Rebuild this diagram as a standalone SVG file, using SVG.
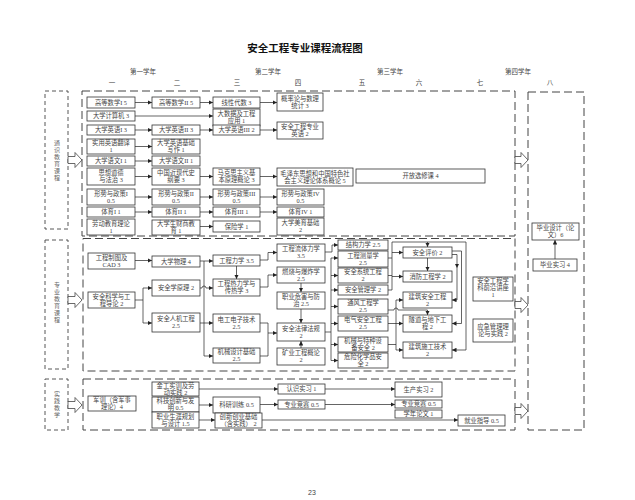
<svg xmlns="http://www.w3.org/2000/svg" width="635" height="500" viewBox="0 0 635 500">
<defs>
<marker id="ah" viewBox="0 0 6 6" refX="6" refY="3" markerWidth="4.5" markerHeight="4.5" orient="auto" markerUnits="userSpaceOnUse"><path d="M0,0 L6,3 L0,6 Z" fill="#222"/></marker>
<style>
text{font-family:"Liberation Serif","Noto Sans CJK SC",serif;fill:#444}
.nd rect{fill:#fff;stroke:#333;stroke-width:0.8}
.nd text{font-size:6.3px;text-anchor:middle}
.c path{fill:none;stroke:#222;stroke-width:0.7}
.c .a{marker-end:url(#ah)}
.ds{fill:none;stroke:#444;stroke-width:1;stroke-dasharray:8 4}
.ds2{fill:none;stroke:#444;stroke-width:0.9;stroke-dasharray:4 3}
.ho{fill:#fff;stroke:#444;stroke-width:0.8}
.hd{font-size:6.5px;text-anchor:middle}
.vt{font-size:6px;text-anchor:middle;fill:#666}
</style>
</defs>
<rect width="635" height="500" fill="#fff"/>
<text x="305" y="52" style="font-family:'Noto Sans CJK SC',sans-serif;font-size:10.5px;font-weight:bold;text-anchor:middle;fill:#111">安全工程专业课程流程图</text>
<g id="headers">
<text class="hd" x="143" y="74">第一学年</text>
<text class="hd" x="268" y="74">第二学年</text>
<text class="hd" x="390" y="74">第三学年</text>
<text class="hd" x="518" y="74">第四学年</text>
<text class="hd" x="112" y="85">一</text>
<text class="hd" x="177" y="85">二</text>
<text class="hd" x="237" y="85">三</text>
<text class="hd" x="298" y="85">四</text>
<text class="hd" x="362" y="85">五</text>
<text class="hd" x="419" y="85">六</text>
<text class="hd" x="480" y="85">七</text>
<text class="hd" x="550" y="85">八</text>
</g>
<g id="frames">
<rect class="ds2" x="45" y="91" width="23" height="138"/>
<rect class="ds2" x="45" y="240" width="23" height="129"/>
<rect class="ds2" x="45" y="379" width="23" height="51"/>
<rect class="ds" x="82" y="91" width="433" height="145"/>
<rect class="ds" x="83" y="238.5" width="432" height="132.5"/>
<rect class="ds" x="83" y="379" width="432" height="51"/>
<rect class="ds" x="528" y="92" width="56" height="338"/>
<text class="vt"><tspan x="57" y="144.8">通</tspan><tspan x="57" y="151.8">识</tspan><tspan x="57" y="158.8">教</tspan><tspan x="57" y="165.8">育</tspan><tspan x="57" y="172.8">课</tspan><tspan x="57" y="179.8">程</tspan></text>
<text class="vt"><tspan x="57" y="286.8">专</tspan><tspan x="57" y="293.8">业</tspan><tspan x="57" y="300.8">教</tspan><tspan x="57" y="307.8">育</tspan><tspan x="57" y="314.8">课</tspan><tspan x="57" y="321.8">程</tspan></text>
<text class="vt"><tspan x="57" y="395.8">实</tspan><tspan x="57" y="402.8">践</tspan><tspan x="57" y="409.8">教</tspan><tspan x="57" y="416.8">学</tspan></text>
<polygon class="ho" points="68,156.5 75,156.5 75,152.5 82,160 75,167.5 75,163.5 68,163.5"/>
<polygon class="ho" points="68,296.5 75,296.5 75,292.5 82,300 75,307.5 75,303.5 68,303.5"/>
<polygon class="ho" points="68,401.5 75,401.5 75,397.5 82,405 75,412.5 75,408.5 68,408.5"/>
<polygon class="ho" points="515,156.5 521,156.5 521,152.5 528,160 521,167.5 521,163.5 515,163.5"/>
<polygon class="ho" points="515,301.5 521,301.5 521,297.5 528,305 521,312.5 521,308.5 515,308.5"/>
<polygon class="ho" points="515,407.5 521,407.5 521,403.5 528,411 521,418.5 521,414.5 515,414.5"/>
</g>
<g id="connectors" class="c">
<path class="a" d="M135,102.5 H152"/>
<path class="a" d="M200,102.5 H213"/>
<path class="a" d="M260,102.5 H277"/>
<path class="a" d="M135,116 H213"/>
<path class="a" d="M135,130 H152"/>
<path class="a" d="M200,130 H213"/>
<path class="a" d="M260,130 H277"/>
<path class="a" d="M135,146.5 H152"/>
<path class="a" d="M135,161 H152"/>
<path class="a" d="M135,176.5 H152"/>
<path class="a" d="M200,176.5 H213"/>
<path class="a" d="M260,176.5 H277"/>
<path class="a" d="M135,197 H152"/>
<path class="a" d="M200,197 H213"/>
<path class="a" d="M260,197 H277"/>
<path class="a" d="M135,212 H152"/>
<path class="a" d="M200,212 H213"/>
<path class="a" d="M260,212 H277"/>
<path class="a" d="M200,226.5 H213"/>
<path class="a" d="M135,260.5 H152"/>
<path class="a" d="M135,300 H143 V288 H152"/>
<path class="a" d="M143,300 V323 H152"/>
<path class="a" d="M200,261 H213"/>
<path class="a" d="M204,261 V356 H213"/>
<path class="a" d="M200,288 H202 A2,2 0 0 1 206,288 H213"/>
<path class="a" d="M200,323 H213"/>
<path class="a" d="M236.5,266 V279"/>
<path class="a" d="M260,260 H268 V252.5 H277"/>
<path class="a" d="M260,287 H268 V275 H277"/>
<path class="a" d="M260,323 H268 V333 H277"/>
<path d="M260,356 H268 V333"/>
<path class="a" d="M301,283 V292"/>
<path class="a" d="M301,309 V323"/>
<path class="a" d="M301,365 V341"/>
<path class="a" d="M325,252 H332 V245 H338"/>
<path d="M325,332 H331 M331,258 V360.5"/>
<path class="a" d="M331,258 H338"/>
<path class="a" d="M331,275.5 H338"/>
<path class="a" d="M331,290 H338"/>
<path class="a" d="M331,306.5 H338"/>
<path class="a" d="M331,323.5 H338"/>
<path class="a" d="M331,344.5 H338"/>
<path class="a" d="M331,360.5 H338"/>
<path d="M388,258 H392 M388,275.5 H392 M388,290 H392 M392,242 V290"/>
<path class="a" d="M392,252.5 H403"/>
<path class="a" d="M392,276.5 H403"/>
<path class="a" d="M392,242 H466 V350 H452"/>
<path class="a" d="M427.5,242 V247"/>
<path class="a" d="M427.5,258 V271"/>
<path class="a" d="M452,251 H461.5 V323.5 H452"/>
<path class="a" d="M452,254.5 H457 V268"/>
<path class="a" d="M457,268 V300 H452"/>
<path d="M388,323.5 H396 M388,344.5 H396 M396,300 V350"/>
<path class="a" d="M396,300 H403"/>
<path class="a" d="M396,323.5 H403"/>
<path class="a" d="M396,350 H403"/>
<path class="a" d="M388,310 H394 A2,2 0 0 1 398,310 H427.5 V315"/>
<path class="a" d="M555,259 V240"/>
<path class="a" d="M199,389 H278"/>
<path class="a" d="M199,405 H213"/>
<path class="a" d="M260,404.5 H278"/>
<path class="a" d="M199,420 H215"/>
<path class="a" d="M325,389 H395"/>
<path class="a" d="M325,404.5 H395"/>
<path class="a" d="M262,420 H458"/>
</g>
<g id="n1" class="nd"><rect x="87" y="97" width="48" height="11"/><text x="111" y="104.8">高等数学I 5</text></g>
<g id="n2" class="nd"><rect x="152" y="97" width="48" height="11"/><text x="176" y="104.8">高等数学II 5</text></g>
<g id="n3" class="nd"><rect x="213" y="97" width="47" height="11"/><text x="236.5" y="104.8">线性代数 3</text></g>
<g id="n4" class="nd"><rect x="277" y="93" width="46" height="18"/><text x="300" y="100.8">概率论与数理</text><text x="300" y="107.8">统计 3</text></g>
<g id="n5" class="nd"><rect x="87" y="111" width="48" height="10"/><text x="111" y="118.3">大学计算机 3</text></g>
<g id="n6" class="nd"><rect x="213" y="109" width="47" height="17"/><text x="236.5" y="116.3">大数据及工程</text><text x="236.5" y="123.3">应用 1</text></g>
<g id="n7" class="nd"><rect x="87" y="125" width="48" height="10"/><text x="111" y="132.3">大学英语I 3</text></g>
<g id="n8" class="nd"><rect x="152" y="125" width="48" height="10"/><text x="176" y="132.3">大学英语II 3</text></g>
<g id="n9" class="nd"><rect x="213" y="125" width="47" height="10"/><text x="236.5" y="132.3">大学英语III 2</text></g>
<g id="n10" class="nd"><rect x="277" y="122" width="46" height="17"/><text x="300" y="129.3">安全工程专业</text><text x="300" y="136.3">英语 2</text></g>
<g id="n11" class="nd"><rect x="87" y="139" width="48" height="15"/><text x="111" y="145.3">实用英语翻译</text><text x="111" y="152.3">1</text></g>
<g id="n12" class="nd"><rect x="152" y="139" width="48" height="15"/><text x="176" y="145.3">大学英语基础</text><text x="176" y="152.3">写作 1</text></g>
<g id="n13" class="nd"><rect x="87" y="156" width="48" height="10"/><text x="111" y="163.3">大学语文I 1</text></g>
<g id="n14" class="nd"><rect x="152" y="156" width="48" height="10"/><text x="176" y="163.3">大学语文II 1</text></g>
<g id="n15" class="nd"><rect x="87" y="168" width="48" height="17"/><text x="111" y="175.3">思想道德</text><text x="111" y="182.3">与法治 3</text></g>
<g id="n16" class="nd"><rect x="152" y="168" width="48" height="17"/><text x="176" y="175.3">中国近现代史</text><text x="176" y="182.3">纲要 3</text></g>
<g id="n17" class="nd"><rect x="213" y="168" width="47" height="17"/><text x="236.5" y="175.3">马克思主义基</text><text x="236.5" y="182.3">本原理概论 3</text></g>
<g id="n18" class="nd"><rect x="277" y="168" width="76" height="18"/><text x="315" y="175.8">毛泽东思想和中国特色社</text><text x="315" y="182.8">会主义理论体系概论 5</text></g>
<g id="n19" class="nd"><rect x="356" y="169" width="129" height="14"/><text x="420.5" y="178.3">开放选修课 4</text></g>
<g id="n20" class="nd"><rect x="87" y="189" width="48" height="16"/><text x="111" y="195.8">形势与政策I</text><text x="111" y="202.8">0.5</text></g>
<g id="n21" class="nd"><rect x="152" y="189" width="48" height="16"/><text x="176" y="195.8">形势与政策II</text><text x="176" y="202.8">0.5</text></g>
<g id="n22" class="nd"><rect x="213" y="189" width="47" height="16"/><text x="236.5" y="195.8">形势与政策III</text><text x="236.5" y="202.8">0.5</text></g>
<g id="n23" class="nd"><rect x="277" y="189" width="47" height="16"/><text x="300.5" y="195.8">形势与政策IV</text><text x="300.5" y="202.8">0.5</text></g>
<g id="n24" class="nd"><rect x="87" y="207" width="48" height="10"/><text x="111" y="214.3">体育I 1</text></g>
<g id="n25" class="nd"><rect x="152" y="207" width="48" height="10"/><text x="176" y="214.3">体育II 1</text></g>
<g id="n26" class="nd"><rect x="213" y="207" width="47" height="10"/><text x="236.5" y="214.3">体育III 1</text></g>
<g id="n27" class="nd"><rect x="277" y="207" width="47" height="10"/><text x="300.5" y="214.3">体育IV 1</text></g>
<g id="n28" class="nd"><rect x="87" y="219" width="48" height="16"/><text x="111" y="225.8">劳动教育理论</text><text x="111" y="232.8">1</text></g>
<g id="n29" class="nd"><rect x="152" y="220" width="48" height="15"/><text x="176" y="226.3">大学生财商教</text><text x="176" y="233.3">育 1</text></g>
<g id="n30" class="nd"><rect x="213" y="221" width="47" height="11"/><text x="236.5" y="228.8">保险学 1</text></g>
<g id="n31" class="nd"><rect x="277" y="218" width="47" height="17"/><text x="300.5" y="225.3">大学美育基础</text><text x="300.5" y="232.3">2</text></g>
<g id="s1" class="nd"><rect x="88" y="253" width="47" height="16"/><text x="111.5" y="259.8">工程制图及</text><text x="111.5" y="266.8">CAD 3</text></g>
<g id="s2" class="nd"><rect x="88" y="292" width="47" height="16"/><text x="111.5" y="298.8">安全科学与工</text><text x="111.5" y="305.8">程导论 2</text></g>
<g id="s3" class="nd"><rect x="152" y="256" width="48" height="11"/><text x="176" y="263.8">大学物理 4</text></g>
<g id="s4" class="nd"><rect x="152" y="280" width="48" height="16"/><text x="176" y="290.3">安全学原理 2</text></g>
<g id="s5" class="nd"><rect x="152" y="313" width="48" height="19"/><text x="176" y="321.3">安全人机工程</text><text x="176" y="328.3">2.5</text></g>
<g id="s6" class="nd"><rect x="213" y="255" width="47" height="11"/><text x="236.5" y="262.8">工程力学 3.5</text></g>
<g id="s7" class="nd"><rect x="213" y="279" width="47" height="17"/><text x="236.5" y="286.3">工程热力学与</text><text x="236.5" y="293.3">传热学 3</text></g>
<g id="s8" class="nd"><rect x="213" y="314" width="47" height="18"/><text x="236.5" y="321.8">电工电子技术</text><text x="236.5" y="328.8">2.5</text></g>
<g id="s9" class="nd"><rect x="213" y="348" width="47" height="15"/><text x="236.5" y="354.3">机械设计基础</text><text x="236.5" y="361.3">2.5</text></g>
<g id="s10" class="nd"><rect x="277" y="244" width="48" height="17"/><text x="301" y="251.3">工程流体力学</text><text x="301" y="258.3">3.5</text></g>
<g id="s11" class="nd"><rect x="277" y="267" width="48" height="16"/><text x="301" y="273.8">燃烧与爆炸学</text><text x="301" y="280.8">2.5</text></g>
<g id="s12" class="nd"><rect x="277" y="292" width="48" height="17"/><text x="301" y="299.3">职业危害与防</text><text x="301" y="306.3">治 2.5</text></g>
<g id="s13" class="nd"><rect x="277" y="323" width="48" height="18"/><text x="301" y="330.8">安全法律法规</text><text x="301" y="337.8">2</text></g>
<g id="s14" class="nd"><rect x="277" y="348" width="48" height="17"/><text x="301" y="355.3">矿业工程概论</text><text x="301" y="362.3">2</text></g>
<g id="s15" class="nd"><rect x="338" y="240" width="50" height="10"/><text x="363" y="247.3">结构力学 2.5</text></g>
<g id="s16" class="nd"><rect x="338" y="251" width="50" height="16"/><text x="363" y="257.8">工程测量学</text><text x="363" y="264.8">2.5</text></g>
<g id="s17" class="nd"><rect x="338" y="268" width="50" height="15"/><text x="363" y="274.3">安全系统工程</text><text x="363" y="281.3">2</text></g>
<g id="s18" class="nd"><rect x="338" y="285" width="50" height="10"/><text x="363" y="292.3">安全管理学 2</text></g>
<g id="s19" class="nd"><rect x="338" y="299" width="50" height="15"/><text x="363" y="305.3">通风工程学</text><text x="363" y="312.3">2.5</text></g>
<g id="s20" class="nd"><rect x="338" y="316" width="50" height="15"/><text x="363" y="322.3">电气安全工程</text><text x="363" y="329.3">2.5</text></g>
<g id="s21" class="nd"><rect x="338" y="337" width="50" height="15"/><text x="363" y="343.3">机械与特种设</text><text x="363" y="350.3">备安全 2</text></g>
<g id="s22" class="nd"><rect x="338" y="353" width="50" height="15"/><text x="363" y="359.3">危险化学品安</text><text x="363" y="366.3">全 2</text></g>
<g id="s23" class="nd"><rect x="403" y="247" width="49" height="11"/><text x="427.5" y="254.8">安全评价 2</text></g>
<g id="s24" class="nd"><rect x="403" y="271" width="49" height="11"/><text x="427.5" y="278.8">消防工程学 2</text></g>
<g id="s25" class="nd"><rect x="403" y="292" width="49" height="16"/><text x="427.5" y="298.8">建筑安全工程</text><text x="427.5" y="305.8">2</text></g>
<g id="s26" class="nd"><rect x="403" y="315" width="49" height="17"/><text x="427.5" y="322.3">隧道与地下工</text><text x="427.5" y="329.3">程 2</text></g>
<g id="s27" class="nd"><rect x="403" y="342" width="49" height="16"/><text x="427.5" y="348.8">建筑施工技术</text><text x="427.5" y="355.8">2</text></g>
<g id="s28" class="nd"><rect x="473" y="277" width="40" height="24"/><text x="493" y="283">安全工程学</text><text x="493" y="290.2">科前沿讲座</text><text x="493" y="297.4">1</text></g>
<g id="s29" class="nd"><rect x="473" y="319" width="40" height="23"/><text x="493" y="329.3">应急管理理</text><text x="493" y="336.3">论与实践 2</text></g>
<g id="r1" class="nd"><rect x="532" y="223" width="47" height="17"/><text x="555.5" y="230.3">毕业设计（论</text><text x="555.5" y="237.3">文）6</text></g>
<g id="r2" class="nd"><rect x="533" y="259" width="44" height="12"/><text x="555" y="267.3">毕业实习 4</text></g>
<g id="p1" class="nd"><rect x="88" y="396" width="48" height="15"/><text x="112" y="402.3">军训（含军事</text><text x="112" y="409.3">理论）4</text></g>
<g id="p2" class="nd"><rect x="152" y="382" width="47" height="14"/><text x="175.5" y="387.8">金工实训及劳</text><text x="175.5" y="394.8">动实践 2</text></g>
<g id="p3" class="nd"><rect x="152" y="397" width="47" height="15"/><text x="175.5" y="403.3">科技创新与发</text><text x="175.5" y="410.3">明 0.5</text></g>
<g id="p4" class="nd"><rect x="152" y="412" width="47" height="16"/><text x="175.5" y="418.8">职业生涯规划</text><text x="175.5" y="425.8">与设计 1.5</text></g>
<g id="p5" class="nd"><rect x="213" y="397" width="47" height="16"/><text x="236.5" y="407.3">科研训练 0.5</text></g>
<g id="p6" class="nd"><rect x="215" y="413" width="47" height="15"/><text x="238.5" y="419.3">创新创业基础</text><text x="238.5" y="426.3">（含实践） 2</text></g>
<g id="p7" class="nd"><rect x="278" y="384" width="47" height="10"/><text x="301.5" y="391.3">认识实习 1</text></g>
<g id="p8" class="nd"><rect x="278" y="400" width="47" height="9"/><text x="301.5" y="406.8">专业竞赛 0.5</text></g>
<g id="p9" class="nd"><rect x="395" y="382" width="47" height="15"/><text x="418.5" y="391.8">生产实习 2</text></g>
<g id="p10" class="nd"><rect x="395" y="400" width="47" height="8"/><text x="418.5" y="406.3">专业竞赛 0.5</text></g>
<g id="p11" class="nd"><rect x="395" y="410" width="47" height="8"/><text x="418.5" y="416.3">学年论文 1</text></g>
<g id="p12" class="nd"><rect x="458" y="415" width="47" height="11"/><text x="481.5" y="422.8">就业指导 0.5</text></g>
<text x="312" y="495" style="font-family:'Liberation Sans',sans-serif;font-size:7px;text-anchor:middle">23</text>
</svg>
